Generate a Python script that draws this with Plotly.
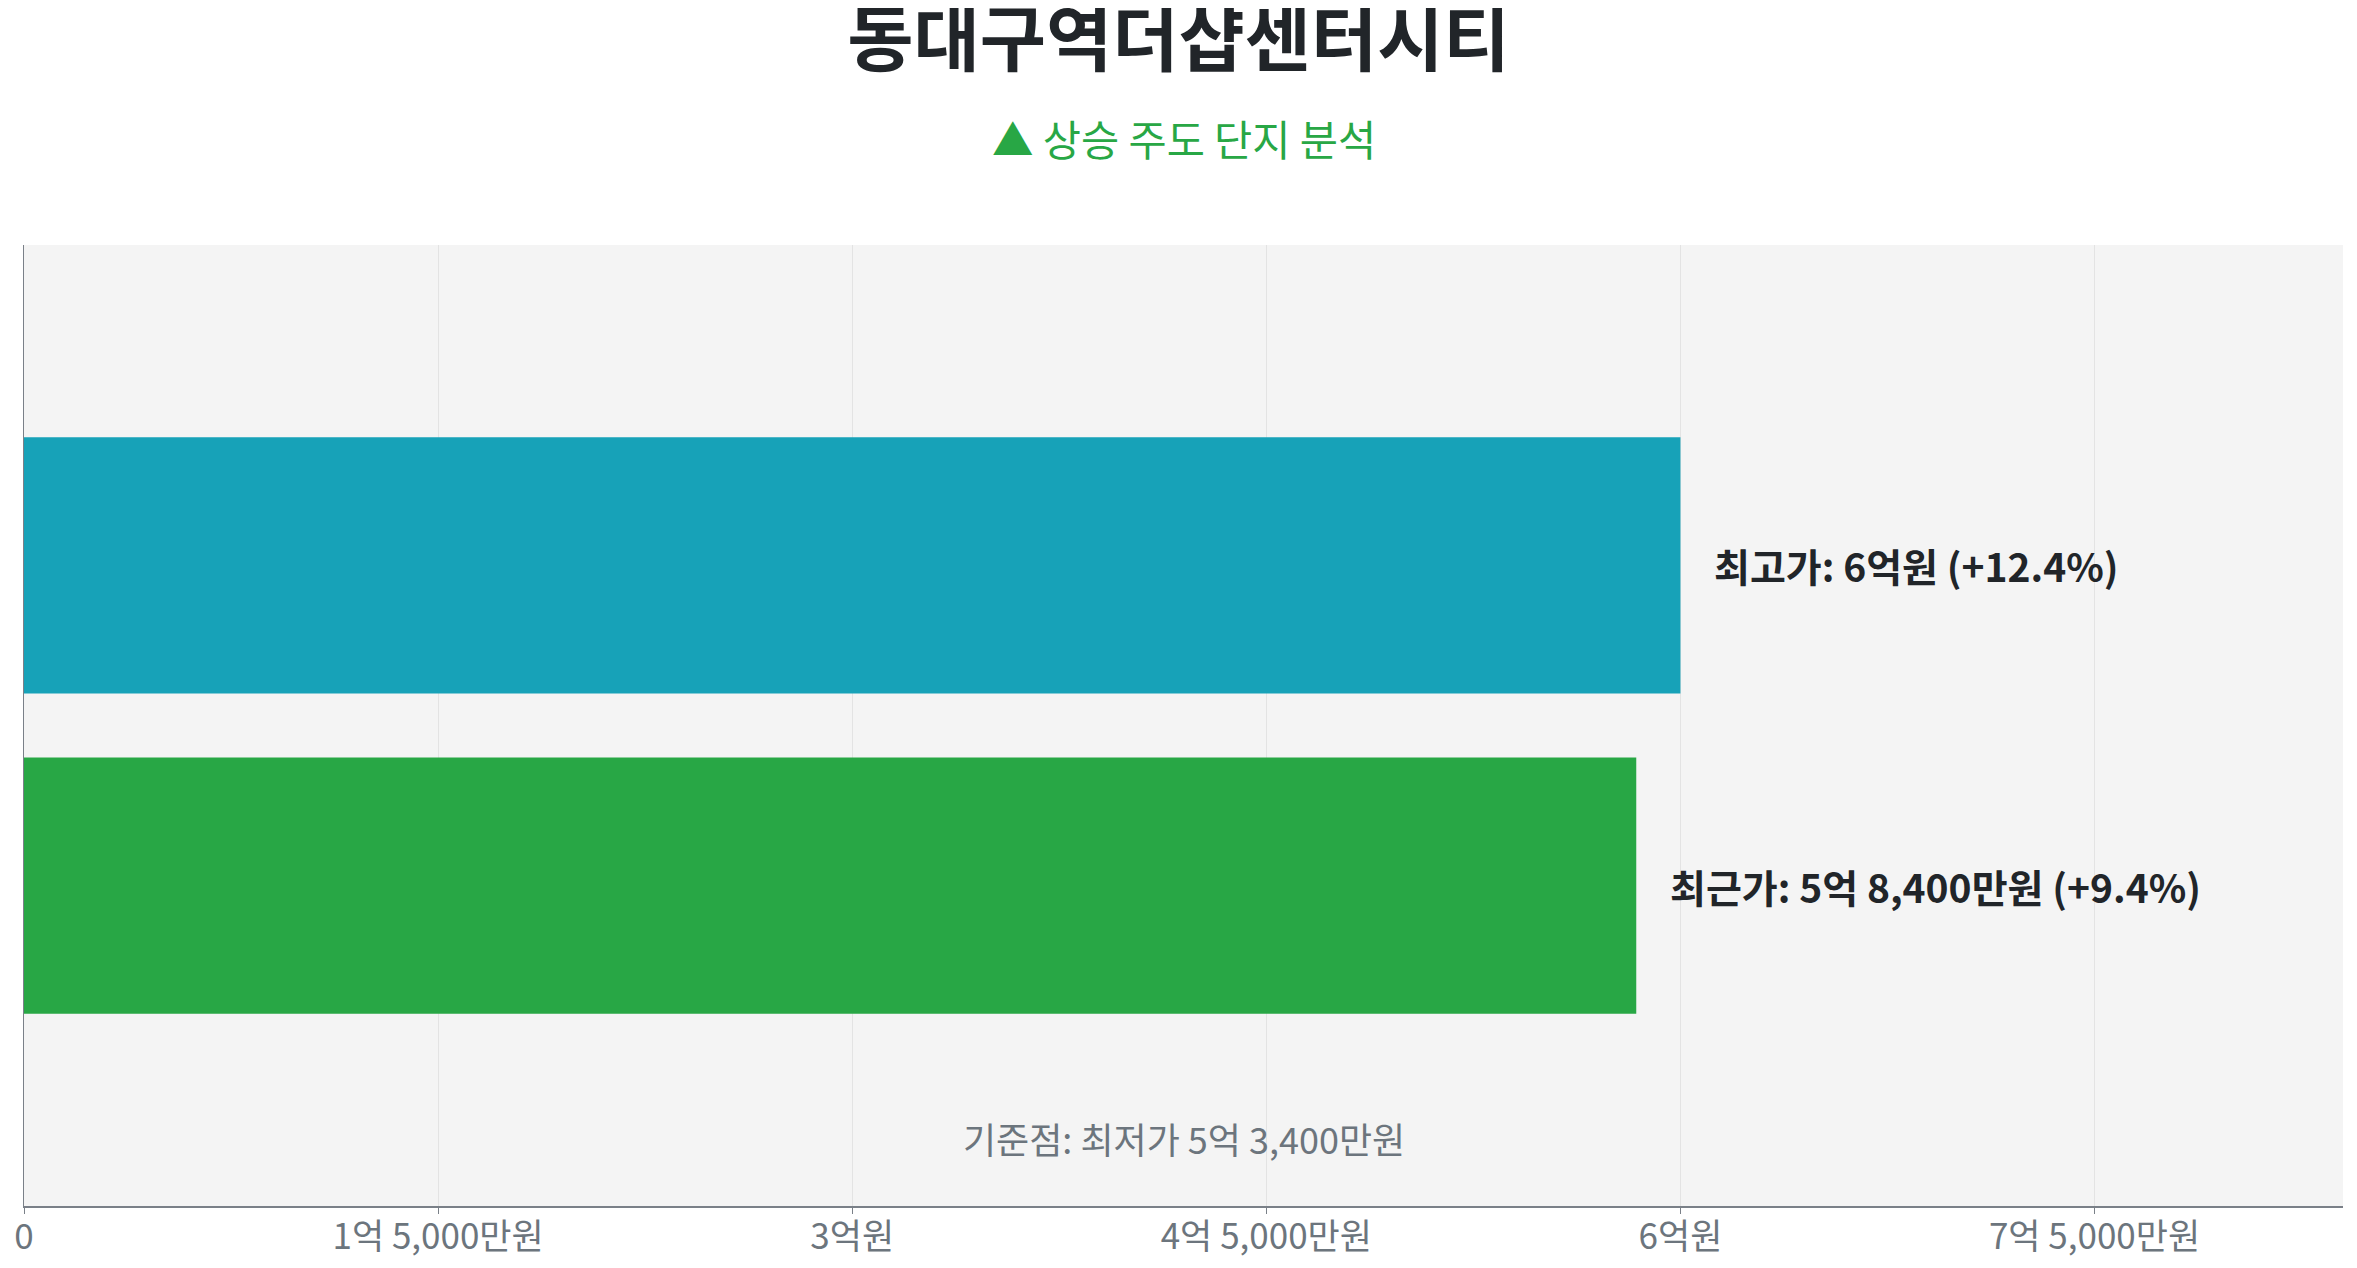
import plotly.graph_objects as go

# 가격 데이터 (원)
categories = ["최근가", "최고가"]
prices = [584_000_000, 600_000_000]
bar_colors = ["#28a745", "#17a2b8"]
labels = ["최근가: 5억 8,400만원 (+9.4%)", "최고가: 6억원 (+12.4%)"]
base_note = "기준점: 최저가 5억 3,400만원"

tick_vals = [0, 150_000_000, 300_000_000, 450_000_000, 600_000_000, 750_000_000]
tick_text = ["0", "1억 5,000만원", "3억원", "4억 5,000만원", "6억원", "7억 5,000만원"]

font_family = "Noto Sans CJK KR"

fig = go.Figure()
fig.add_trace(
    go.Bar(
        x=prices,
        y=categories,
        orientation="h",
        marker={"color": bar_colors, "line": {"width": 0}},
        width=0.8,
        hoverinfo="skip",
        showlegend=False,
    )
)

# 막대 옆 라벨
for cat, price, label in zip(categories, prices, labels):
    fig.add_annotation(
        x=price,
        y=cat,
        text=f"<b>{label}</b>",
        showarrow=False,
        xanchor="left",
        yanchor="middle",
        xshift=32,
        font={"size": 39, "color": "#212529", "family": font_family},
    )

fig.add_annotation(
    x=0.5,
    y=0.071,
    xref="paper",
    yref="paper",
    text=base_note,
    showarrow=False,
    xanchor="center",
    yanchor="middle",
    font={"size": 36, "color": "#6c757d", "family": font_family},
)

# 부제목
fig.add_annotation(
    x=0.5,
    y=1.111,
    xref="paper",
    yref="paper",
    text="▲ 상승 주도 단지 분석",
    showarrow=False,
    xanchor="center",
    yanchor="middle",
    font={"size": 41.5, "color": "#28a745", "family": font_family},
)

fig.update_layout(
    width=2341,
    height=1260,
    margin={"l": 16, "r": 6, "t": 237, "b": 62},
    paper_bgcolor="#ffffff",
    plot_bgcolor="#f4f4f4",
    font={"family": font_family, "color": "#6c757d"},
    title={
        "text": "<b>동대구역더샵센터시티</b>",
        "x": 0.5,
        "xanchor": "center",
        "y": 0.9745,
        "yanchor": "middle",
        "yref": "container",
        "font": {"size": 72, "color": "#212529", "family": font_family},
    },
    xaxis={
        "range": [0, 840_000_000],
        "tickvals": tick_vals,
        "ticktext": tick_text,
        "tickfont": {"size": 35, "color": "#6c757d"},
        "showgrid": True,
        "gridcolor": "#e3e3e3",
        "gridwidth": 1,
        "zeroline": False,
        "showline": True,
        "linecolor": "#7a8088",
        "linewidth": 2,
        "ticks": "outside",
        "ticklen": 6,
        "tickcolor": "#7a8088",
        "ticklabelstandoff": -7,
    },
    yaxis={
        "range": [-1, 2],
        "showticklabels": False,
        "showgrid": False,
        "zeroline": False,
        "showline": True,
        "linecolor": "#7a8088",
        "linewidth": 1,
    },
)

fig.write_html("out.html")
